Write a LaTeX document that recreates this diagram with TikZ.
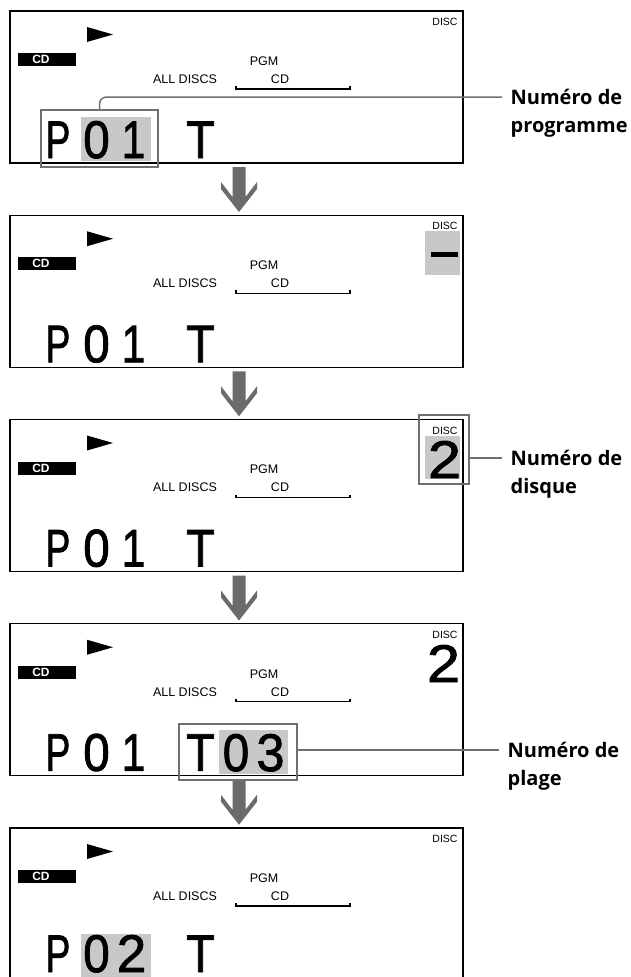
\documentclass[tikz,border=0pt]{standalone}
\usepackage{fontspec}
\setmainfont{Liberation Sans}
\newfontfamily\labfont{Open Sans}
\newfontfamily\lcdfont[FakeBold=1.6]{Liberation Sans}
\usetikzlibrary{calc}
\definecolor{hl}{HTML}{C8C8C8}
\definecolor{arr}{HTML}{6B6B6B}
\definecolor{lead}{HTML}{707070}
\tikzset{
 panel/.style={draw=black, line width=1.1pt, minimum width=453pt, minimum height=152pt, inner sep=0pt},
 small/.style={font=\fontsize{12.5}{12.5}\selectfont, inner sep=0pt},
 tiny/.style={font=\fontsize{10.5}{10.5}\selectfont, inner sep=0pt},
 badge/.style={fill=black, minimum width=58pt, minimum height=13pt, inner sep=0pt},
 badgetxt/.style={text=white, font=\bfseries\fontsize{12}{12}\selectfont, inner sep=0pt},
 lcd/.style={font=\lcdfont\fontsize{53}{53}\selectfont, inner sep=0pt, anchor=base},
 hlbox/.style={draw=lead, line width=1.6pt},
 leader/.style={draw=lead, line width=1.5pt},
 lab/.style={font=\labfont\bfseries\fontsize{20}{20}\selectfont, anchor=west, inner xsep=8.5pt, inner ysep=0pt, text height=14pt, text depth=0pt},
 pics/downarrow/.style={code={\fill[arr] (-6.5,0) -- (-6.5,30) -- (-18,15) -- (-18,22) -- (0,45) -- (18,22) -- (18,15) -- (6.5,30) -- (6.5,0) -- cycle;}}
}
\begin{document}
\begin{tikzpicture}[x=1pt,y=-1pt]
\useasboundingbox[fill=white] (0,0) rectangle (630,977);
% highlights (drawn first)
\fill[hl] (81,117) rectangle (151,161);
\fill[hl] (425,231) rectangle (460,275);
\fill[hl] (425,436) rectangle (460,479);
\fill[hl] (219,730) rectangle (288,774);
\fill[hl] (81,934) rectangle (151,978);
% panels
\foreach \i/\T in {1/11,2/215.25,3/419.5,4/623.75,5/828}{
 \begin{scope}[shift={(0,\T)}]
  \node[panel] (p\i) at (236.5,76) {};
  \fill (87,16) -- (113,23.5) -- (87,31) -- cycle;
  \node[badge] (cdb\i) at (47,48.5) {};
  \node[badgetxt] (cdt\i) at (41,48.5) {CD};
  \node[small] (pgm\i) at (264,50) {PGM};
  \node[small] (all\i) at (185,68) {ALL DISCS};
  \node[small] (cd\i) at (280,68) {CD};
  \draw[line width=1.1pt] (236,75) -- (236,78) -- (350,78) -- (350,75);
  \node[tiny] (disc\i) at (445,11) {DISC};
 \end{scope}
}
% arrows between panels
\foreach \T in {11,215.25,419.5,623.75}{
  \pic at (239,\T+156) {downarrow};
}
% big characters
\foreach \i/\B in {1/158,2/362.25,3/566.5,4/770.75,5/972}{
  \node[lcd] (P\i) at (58,\B) {\scalebox{0.7}[1]{P}};
  \node[lcd] (T\i) at (200.5,\B) {\scalebox{0.88}[1]{T}};
  \node[lcd] (d\i a) at (96.5,\B) {\scalebox{0.9}[1]{0}};
}
\node[lcd] (d1b) at (133.5,158) {\scalebox{0.8}[1]{1}};
\node[lcd] (d2b) at (133.5,362.25) {\scalebox{0.8}[1]{1}};
\node[lcd] (d3b) at (133.5,566.5) {\scalebox{0.8}[1]{1}};
\node[lcd] (d4b) at (133.5,770.75) {\scalebox{0.8}[1]{1}};
\node[lcd] (d5b) at (131.5,972) {\scalebox{1.0}[1]{2}};
% disc area
\fill (431,252) rectangle (458,257);
\node[lcd] (disc3n) at (444.5,478) {\scalebox{1.12}[1]{2}};
\node[lcd] (disc4n) at (443.5,682) {\scalebox{1.12}[1]{2}};
% track digits
\node[lcd] (t4a) at (236,771) {\scalebox{0.9}[1]{0}};
\node[lcd] (t4b) at (270.5,771) {\scalebox{0.95}[1]{3}};
% highlight boxes
\node[hlbox, minimum width=117pt, minimum height=57pt, inner sep=0pt] (b1) at (99.5,138.5) {};
\node[hlbox, minimum width=50pt, minimum height=69pt, inner sep=0pt] (b3) at (444,449.5) {};
\node[hlbox, minimum width=118pt, minimum height=56pt, inner sep=0pt] (b4) at (238,752) {};
% labels
\node[lab] (lp1) at (502,97) {Numéro de};
\node[lab] (lp1b) at (502,125) {programme};
\node[lab] (lp3) at (502,458) {Numéro de};
\node[lab] (lp3b) at (502,486) {disque};
\node[lab] (lp4) at (499,750) {Numéro de};
\node[lab] (lp4b) at (499,778) {plage};
% leaders
\draw[leader, rounded corners=7pt] (b1.north) |- (lp1.west);
\draw[leader] (b3.east |- lp3.west) -- (lp3.west);
\draw[leader] (b4.east |- lp4.west) -- (lp4.west);
\end{tikzpicture}
\end{document}
